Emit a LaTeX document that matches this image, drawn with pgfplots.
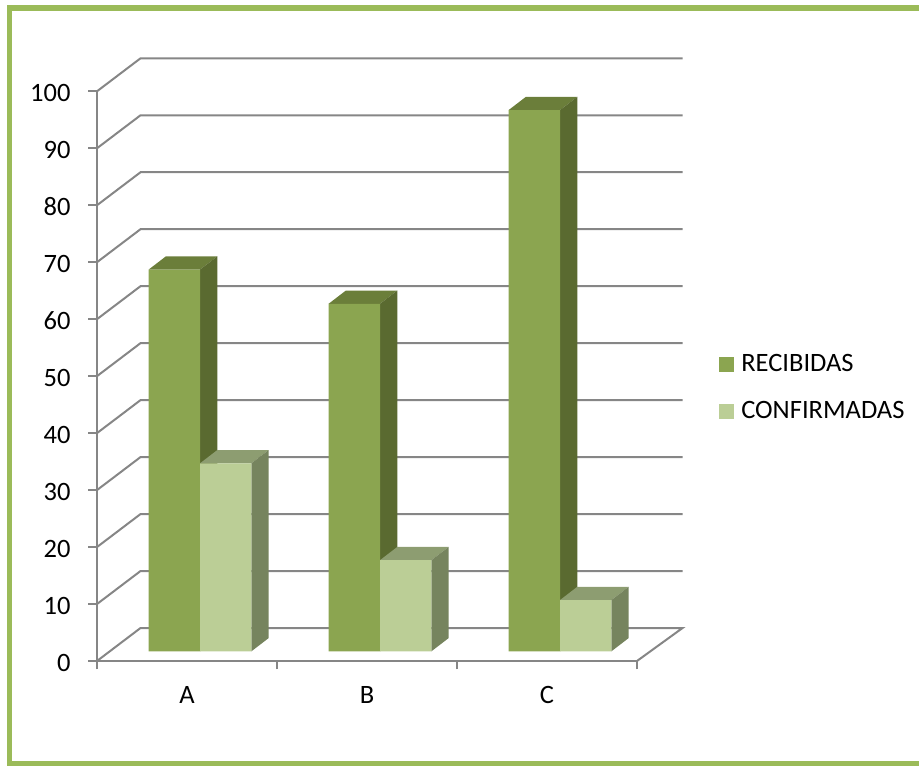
\documentclass[border=0pt]{standalone}
\usepackage{fontspec}
\setmainfont{Carlito}
\usepackage{pgfplots}
\usepackage{pgfplotstable}
\pgfplotsset{compat=1.18}

\definecolor{frameg}{HTML}{9BBB59}
\definecolor{gridg}{HTML}{868686}
\definecolor{recf}{HTML}{8BA550}
\definecolor{rect}{HTML}{6B7E3A}
\definecolor{recs}{HTML}{5A6A30}
\definecolor{conf}{HTML}{BBCE96}
\definecolor{cont}{HTML}{8D9D71}
\definecolor{cons}{HTML}{76845E}

% x = centre of the bar, y = value
\pgfplotstableread{
x      recibidas
0.4295 67
1.4295 61
2.4295 95
}\recibidas
\pgfplotstableread{
x      confirmadas
0.7151 33
1.7151 16
2.7151 9
}\confirmadas

% top and side face of one bar: centre, value, top colour, side colour
\newcommand{\barfaces}[4]{%
  \pgfmathsetmacro{\xa}{#1-0.1428}%
  \pgfmathsetmacro{\xb}{#1+0.1428}%
  \pgfmathsetmacro{\xc}{\xb+0.0961}%
  \pgfmathsetmacro{\xd}{\xa+0.0961}%
  \pgfmathsetmacro{\yt}{#2+1.7}%
  \pgfmathsetmacro{\yu}{#2+4.03}%
  \addplot[forget plot, fill=#3, draw=none] coordinates {(\xa,\yt) (\xb,\yt) (\xc,\yu) (\xd,\yu)} -- cycle;
  \addplot[forget plot, fill=#4, draw=none] coordinates {(\xb,1.7) (\xc,4.03) (\xc,\yu) (\xb,\yt)} -- cycle;
}

\begin{document}
\begin{tikzpicture}[x=1pt,y=1pt]
\useasboundingbox (0,0) rectangle (919,766);
\fill[frameg] (6.7,0) rectangle (919,4.5);
\fill[frameg] (6.7,0) rectangle (12,761);
\fill[frameg] (6.7,755) rectangle (919,761);

\begin{axis}[
    at={(97pt,105pt)}, anchor=south west,
    scale only axis,
    width=540pt, height=569.7pt,
    xmin=0, xmax=3,
    ymin=0, ymax=100,
    clip=false,
    axis lines=left,
    axis line style={-, draw=gridg, line width=2.2pt},
    tick style={draw=gridg, line width=1.8pt},
    tick align=outside,
    major tick length=8.5pt,
    xtick={0,1,2,3},
    xticklabels={A,B,C},
    x tick label as interval,
    ytick={0,10,...,100},
    /pgf/number format/assume math mode=true,
    tick label style={font=\fontsize{26.5}{32}\selectfont, text=black},
    xticklabel style={yshift=-13pt},
    yticklabel style={xshift=-14.5pt, yshift=-1.5pt},
    unbounded coords=jump,
    legend image code/.code={
        \fill[#1, draw=none] (0pt,-0.5pt) rectangle (15pt,14.5pt);
        \path[draw=none, fill=none] (0pt,0pt) rectangle (22pt,1pt);
    },
    legend style={
        at={(1.152,0.5388)}, anchor=north west,
        draw=none, fill=none, inner sep=0pt,
        nodes={inner sep=0pt, anchor=base west},
        row sep=28.7pt,
        font=\fontsize{26.5}{32}\selectfont,
    },
    legend cell align=left,
]

% back wall and floor
\addplot[forget plot, draw=gridg, line width=2pt] coordinates {
    (3,0) (3.253,5.79) (0.2417,5.79) (0,0) (nan,nan)
    (0,10) (0.2417,15.79) (3.253,15.79) (nan,nan)
    (0,20) (0.2417,25.79) (3.253,25.79) (nan,nan)
    (0,30) (0.2417,35.79) (3.253,35.79) (nan,nan)
    (0,40) (0.2417,45.79) (3.253,45.79) (nan,nan)
    (0,50) (0.2417,55.79) (3.253,55.79) (nan,nan)
    (0,60) (0.2417,65.79) (3.253,65.79) (nan,nan)
    (0,70) (0.2417,75.79) (3.253,75.79) (nan,nan)
    (0,80) (0.2417,85.79) (3.253,85.79) (nan,nan)
    (0,90) (0.2417,95.79) (3.253,95.79) (nan,nan)
    (0,100) (0.2417,105.79) (3.253,105.79)
};

\barfaces{0.4295}{67}{rect}{recs}
\barfaces{1.4295}{61}{rect}{recs}
\barfaces{2.4295}{95}{rect}{recs}
\addplot[forget plot, ybar, bar shift=0pt, bar width=0.2856, fill=recf, draw=none, yshift=9.7pt]
    table[x=x, y=recibidas] {\recibidas};

\barfaces{0.7151}{33}{cont}{cons}
\barfaces{1.7151}{16}{cont}{cons}
\barfaces{2.7151}{9}{cont}{cons}
\addplot[forget plot, ybar, bar shift=0pt, bar width=0.2856, fill=conf, draw=none, yshift=9.7pt]
    table[x=x, y=confirmadas] {\confirmadas};

\addlegendimage{fill=recf}
\addlegendentry{RECIBIDAS}
\addlegendimage{fill=conf}
\addlegendentry{CONFIRMADAS}

\end{axis}
\end{tikzpicture}
\end{document}
